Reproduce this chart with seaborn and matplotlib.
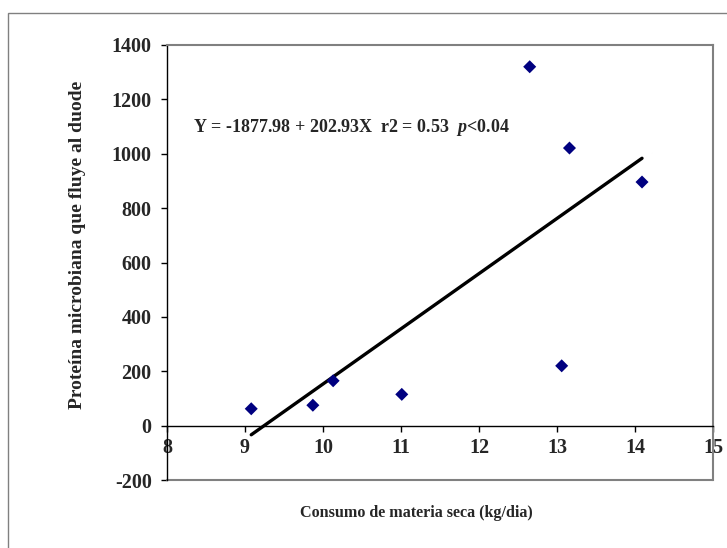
import matplotlib
matplotlib.use('Agg')
import matplotlib.pyplot as plt
import seaborn as sns
import pandas as pd
from matplotlib.patches import Rectangle

# datos
consumo = [9.08, 9.87, 10.13, 11.01, 12.65, 13.06, 13.16, 14.09]
proteina = [62, 75, 165, 115, 1320, 220, 1021, 896]
x_ticks = [8, 9, 10, 11, 12, 13, 14, 15]
y_ticks = [-200, 0, 200, 400, 600, 800, 1000, 1200, 1400]
ecuacion = r"Y = -1877.98 + 202.93X  r2 = 0.53  $p$<0.04"
x_label = "Consumo de materia seca (kg/dia)"
y_label = "Proteína microbiana que fluye al duode"

sns.set_style('white')
plt.rcParams['font.family'] = ['Liberation Serif', 'DejaVu Serif']
plt.rcParams['font.weight'] = 'bold'
plt.rcParams['axes.unicode_minus'] = False
plt.rcParams['mathtext.fontset'] = 'custom'
plt.rcParams['mathtext.it'] = 'Liberation Serif:italic:bold'
plt.rcParams['mathtext.rm'] = 'Liberation Serif:bold'

gris = '#808080'

fig = plt.figure(figsize=(7.27, 5.48), dpi=100)
ax = fig.add_axes([167 / 727, 1 - 480 / 548, (713 - 167) / 727, (480 - 45) / 548])

df = pd.DataFrame({'consumo': consumo, 'proteina': proteina})
sns.regplot(data=df, x='consumo', y='proteina', ci=None, ax=ax, marker='D',
            scatter_kws=dict(s=44, color='#000080', edgecolor='none', alpha=1, zorder=3),
            line_kws=dict(color='black', lw=2.4))

ax.set_xlim(8, 15)
ax.set_ylim(-200, 1400)
ax.set_xticks(x_ticks)
ax.set_yticks(y_ticks)
ax.set_xlabel('')
ax.set_ylabel('')

for s in ['top', 'right']:
    ax.spines[s].set_color(gris)
    ax.spines[s].set_linewidth(1.5)
ax.spines['left'].set_color('black')
ax.spines['left'].set_linewidth(1)
ax.spines['bottom'].set_position(('data', 0))
ax.spines['bottom'].set_color('black')
ax.spines['bottom'].set_linewidth(1)
# borde inferior del area de trazado
ax.axhline(-200, color=gris, lw=1.5, clip_on=False)

ax.tick_params(axis='both', direction='out', length=4, width=1, color='black',
               labelsize=14.5, bottom=True, left=True)
ax.tick_params(axis='x', pad=5)
ax.tick_params(axis='y', pad=7)

fig.text(193 / 727, 1 - 128 / 548, ecuacion, ha='left', va='center', fontsize=13)
fig.text(78 / 727, 1 - 245 / 548, y_label, rotation=90, ha='center', va='center', fontsize=14)
fig.text(416 / 727, 1 - 513 / 548, x_label, ha='center', va='center', fontsize=11.6)

fig.patches.append(Rectangle((8 / 727, -0.1), 1.2, 1 - 13 / 548 + 0.1,
                             transform=fig.transFigure, fill=False,
                             edgecolor=gris, lw=1))

fig.savefig('out.png', dpi=100)
